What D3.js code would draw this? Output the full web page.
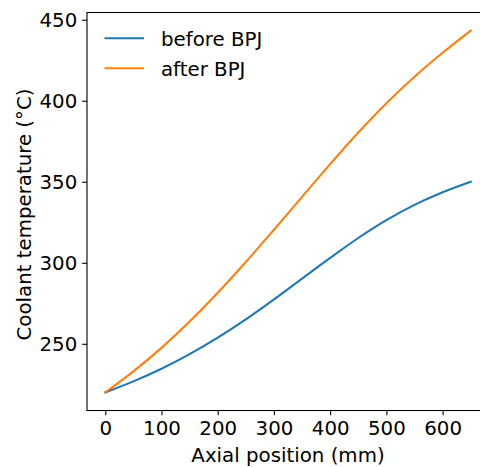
<!DOCTYPE html>
<html>
<head>
<meta charset="utf-8">
<script src="https://cdn.jsdelivr.net/npm/d3@7"></script>
<style>
  body { margin: 0; background: #fff; }
  text { font-family: "DejaVu Sans", sans-serif; }
</style>
</head>
<body>
<div id="wrapper"></div>
<script>
// axial positions (mm)
const positions = [0, 50, 100, 150, 200, 250, 300, 350, 400, 450, 500, 550, 600, 650]
// coolant temperature (°C)
const beforeBPJ = [220, 226.8, 234.6, 243.6, 253.8, 265.1, 277.4, 290.2, 303, 315.3, 326.3, 335.7, 343.5, 350]
const afterBPJ = [220, 233, 247.5, 263.7, 281.5, 300.5, 320.4, 340.7, 360.9, 380.4, 398.5, 414.8, 429.6, 443.3]
const seriesNames = ["before BPJ", "after BPJ"]
const seriesColors = ["#1f77b4", "#ff7f0e"]
const xTicks = [0, 100, 200, 300, 400, 500, 600]
const yTicks = [250, 300, 350, 400, 450]

function drawChart() {

  // 1. Access data
  const series = [beforeBPJ, afterBPJ].map((vals, i) => ({
    name: seriesNames[i],
    color: seriesColors[i],
    values: positions.map((x, j) => ({x: x, y: vals[j]}))
  }))
  const xAccessor = d => d.x
  const yAccessor = d => d.y

  // 2. Create chart dimensions
  let dimensions = {
    width: 480,
    height: 467,
    margin: {
      top: 12.5,
      right: -9,
      bottom: 56.5,
      left: 87,
    },
  }
  dimensions.boundedWidth = dimensions.width
    - dimensions.margin.left
    - dimensions.margin.right
  dimensions.boundedHeight = dimensions.height
    - dimensions.margin.top
    - dimensions.margin.bottom

  const fontSize = 19.8

  // 3. Draw canvas
  const wrapper = d3.select("#wrapper")
    .append("svg")
      .attr("width", dimensions.width)
      .attr("height", dimensions.height)

  const bounds = wrapper.append("g")
    .attr("transform", `translate(${dimensions.margin.left}, ${dimensions.margin.top})`)

  // 4. Create scales (matplotlib-style 5% margins)
  const xExt = d3.extent(positions)
  const xPad = (xExt[1] - xExt[0]) * 0.05
  const xScale = d3.scaleLinear()
    .domain([xExt[0] - xPad, xExt[1] + xPad])
    .range([0, dimensions.boundedWidth])

  const yExt = d3.extent([...beforeBPJ, ...afterBPJ])
  const yPad = (yExt[1] - yExt[0]) * 0.05
  const yScale = d3.scaleLinear()
    .domain([yExt[0] - yPad, yExt[1] + yPad])
    .range([dimensions.boundedHeight, 0])

  // 5. Draw data
  const lineGenerator = d3.line()
    .curve(d3.curveCatmullRom)
    .x(d => xScale(xAccessor(d)))
    .y(d => yScale(yAccessor(d)))

  bounds.selectAll(".series")
    .data(series)
    .join("path")
      .attr("class", "series")
      .attr("d", d => lineGenerator(d.values))
      .attr("fill", "none")
      .attr("stroke", d => d.color)
      .attr("stroke-width", 2.08)
      .attr("stroke-linecap", "square")

  // 6. Draw peripherals
  const xAxisGenerator = d3.axisBottom()
    .scale(xScale)
    .tickValues(xTicks)
    .tickSizeInner(4.86)
    .tickSizeOuter(0)
    .tickPadding(4.86)

  const yAxisGenerator = d3.axisLeft()
    .scale(yScale)
    .tickValues(yTicks)
    .tickSizeInner(4.86)
    .tickSizeOuter(0)
    .tickPadding(4.86)

  const xAxis = bounds.append("g")
    .attr("transform", `translate(0, ${dimensions.boundedHeight})`)
    .call(xAxisGenerator)
  xAxis.select(".domain").remove()
  xAxis.selectAll("line").attr("stroke", "#000").attr("stroke-width", 1.1)
  xAxis.selectAll("text")
    .attr("font-size", fontSize)
    .attr("font-family", "DejaVu Sans")
    .attr("fill", "#000")
    .attr("dy", "0.76em")

  const yAxis = bounds.append("g")
    .call(yAxisGenerator)
  yAxis.select(".domain").remove()
  yAxis.selectAll("line").attr("stroke", "#000").attr("stroke-width", 1.1)
  yAxis.selectAll("text")
    .attr("font-size", fontSize)
    .attr("font-family", "DejaVu Sans")
    .attr("fill", "#000")
    .attr("dy", "0.36em")

  // frame
  bounds.append("rect")
    .attr("width", dimensions.boundedWidth)
    .attr("height", dimensions.boundedHeight)
    .attr("fill", "none")
    .attr("stroke", "#000")
    .attr("stroke-width", 1.1)

  // axis labels
  wrapper.append("text")
    .attr("x", dimensions.margin.left + dimensions.boundedWidth / 2)
    .attr("y", 461.5)
    .attr("text-anchor", "middle")
    .attr("font-size", fontSize)
    .text("Axial position (mm)")

  wrapper.append("text")
    .attr("transform", `translate(31, ${dimensions.margin.top + dimensions.boundedHeight / 2 + 3}) rotate(-90)`)
    .attr("text-anchor", "middle")
    .attr("font-size", fontSize)
    .text("Coolant temperature (°C)")

  // legend
  const legend = bounds.append("g")
    .attr("transform", "translate(17.5, 25.8)")

  const legendItem = legend.selectAll("g")
    .data(series)
    .join("g")
      .attr("transform", (d, i) => `translate(0, ${i * 30})`)

  legendItem.append("line")
    .attr("x1", 0)
    .attr("x2", 39.5)
    .attr("stroke", d => d.color)
    .attr("stroke-width", 2.08)

  legendItem.append("text")
    .attr("x", 56.5)
    .attr("y", 7.7)
    .attr("font-size", fontSize)
    .text(d => d.name)
}
drawChart()
</script>
</body>
</html>
